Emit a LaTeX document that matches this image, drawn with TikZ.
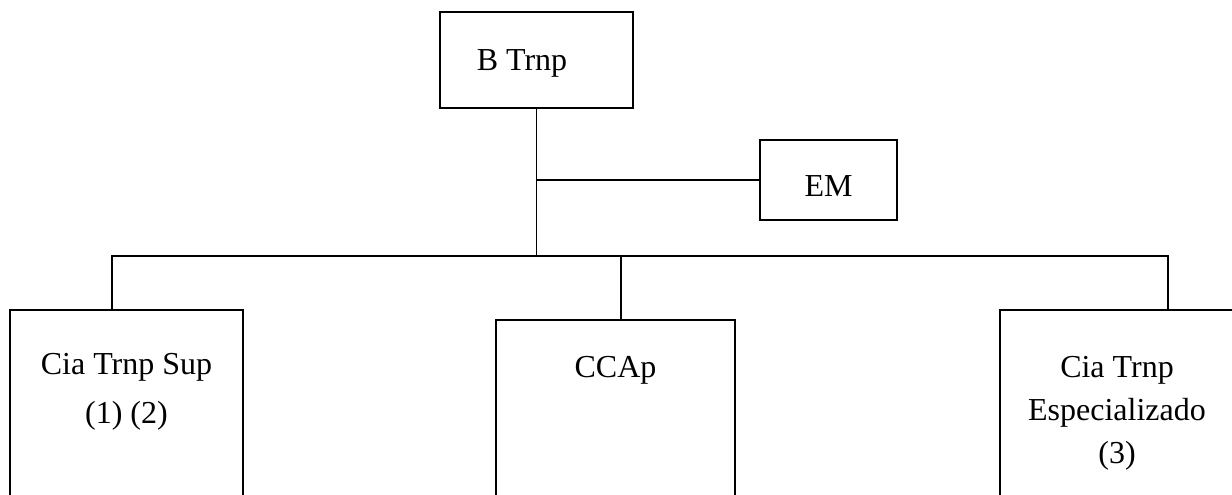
\documentclass[tikz,border=0pt]{standalone}
\usepackage{fontspec}
\setmainfont{Liberation Serif}
\usetikzlibrary{positioning}

\begin{document}
\begin{tikzpicture}[x=0.75pt, y=-0.75pt, line width=1.4pt,
		caixa/.style={draw, rectangle, anchor=north west,
		inner sep=0pt, outer sep=0pt}, txt/.style={font=\fontsize{24}{32}\selectfont,
		inner sep=0pt, align=center, anchor=base}]
	\useasboundingbox (0,0) rectangle (1232,494);
	\clip (0,0) rectangle (1232,494);
	\node [caixa, minimum width=144.75pt, minimum height=72pt,
		label={[txt, xshift=-10.9pt, yshift=-43.5pt]north:B Trnp}] (btrnp) at (440,12) {};
	\node [caixa, minimum width=102.75pt, minimum height=60pt,
		label={[txt, yshift=-42pt]north:EM}] (em) at (760,140) {};
	\node [caixa, minimum width=174.75pt, minimum height=150pt,
		label={[txt, font=\fontsize{24}{36.75}\selectfont, yshift=-84.75pt]north:Cia Trnp Sup\\(1) (2)}] (sup) at (10,310) {};
	\node [caixa, minimum width=179.25pt, minimum height=142.5pt,
		label={[txt, yshift=-42.75pt]north:CCAp}] (ccap) at (496,320) {};
	\node [caixa, minimum width=175.5pt, minimum height=150pt,
		label={[txt, yshift=-114.75pt]north:Cia Trnp\\Especializado\\(3)}] (esp) at (1000,310) {};
	\coordinate (ramo) at (537,180);
	\coordinate (bl) at (112,256);
	\coordinate (br) at (1168,256);
	\coordinate (bc) at (621,256);
	\draw (btrnp.south) -- (btrnp.south |- bl);
	\draw (ramo) -- (em.west);
	\draw (sup.north -| bl) -- (bl) -- (br) -- (esp.north -| br);
	\draw (bc) -- (ccap.north -| bc);
\end{tikzpicture}
\end{document}
